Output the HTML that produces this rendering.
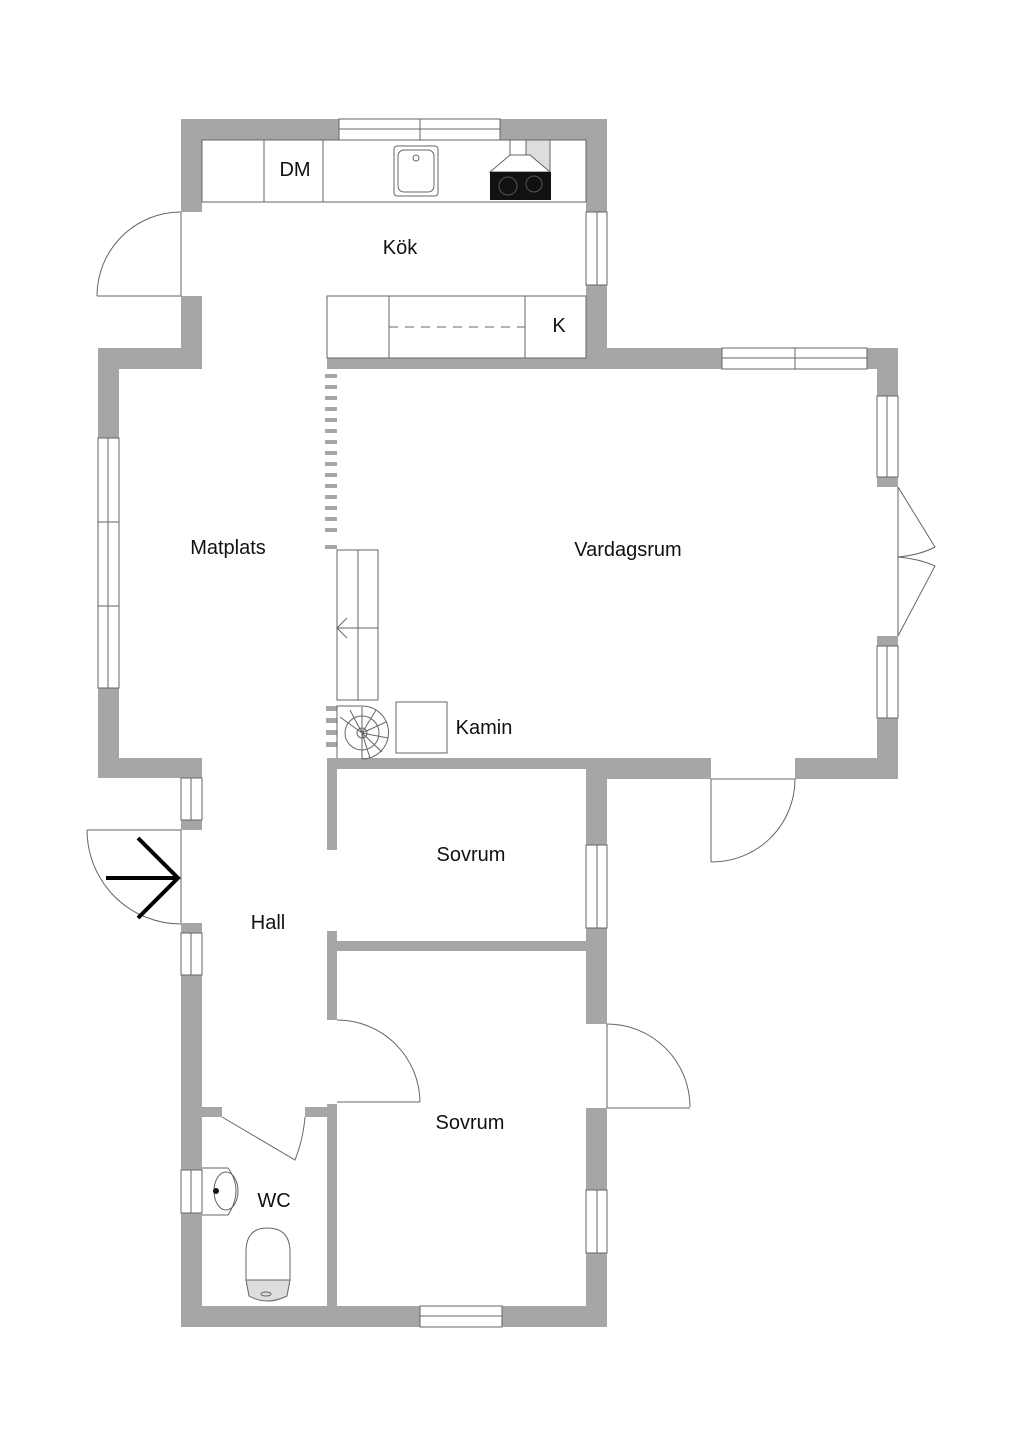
<!DOCTYPE html>
<html><head><meta charset="utf-8"><style>html,body{margin:0;padding:0;background:#fff}svg{display:block}</style></head>
<body>
<svg width="1024" height="1449" viewBox="0 0 1024 1449" xmlns="http://www.w3.org/2000/svg" font-family="Liberation Sans, sans-serif">
<rect width="1024" height="1449" fill="#fff"/>
<g fill="#a6a6a6" stroke="none">
<rect x="181" y="119" width="158" height="21"/>
<rect x="500" y="119" width="107" height="21"/>
<rect x="181" y="119" width="21" height="93"/>
<rect x="181" y="296" width="21" height="73"/>
<rect x="586" y="119" width="21" height="93"/>
<rect x="586" y="285" width="21" height="84"/>
<rect x="98" y="348" width="104" height="21"/>
<rect x="98" y="348" width="21" height="90"/>
<rect x="98" y="688" width="21" height="90"/>
<rect x="98" y="758" width="104" height="20"/>
<rect x="181" y="820" width="21" height="10"/>
<rect x="181" y="923" width="21" height="10"/>
<rect x="181" y="975" width="21" height="195"/>
<rect x="181" y="1213" width="21" height="114"/>
<rect x="181" y="1306" width="239" height="21"/>
<rect x="502" y="1306" width="105" height="21"/>
<rect x="586" y="758" width="21" height="87"/>
<rect x="586" y="928" width="21" height="96"/>
<rect x="586" y="1108" width="21" height="82"/>
<rect x="586" y="1253" width="21" height="74"/>
<rect x="327" y="358" width="280" height="11"/>
<rect x="586" y="348" width="136" height="21"/>
<rect x="867" y="348" width="31" height="21"/>
<rect x="877" y="348" width="21" height="48"/>
<rect x="877" y="477" width="21" height="10"/>
<rect x="877" y="636" width="21" height="10"/>
<rect x="877" y="718" width="21" height="61"/>
<rect x="586" y="758" width="125" height="21"/>
<rect x="795" y="758" width="103" height="21"/>
<rect x="327" y="758" width="260" height="11"/>
<rect x="327" y="758" width="10" height="92"/>
<rect x="327" y="931" width="10" height="89"/>
<rect x="337" y="941" width="250" height="10"/>
<rect x="327" y="1104" width="10" height="223"/>
<rect x="202" y="1107" width="20" height="10"/>
<rect x="305" y="1107" width="32" height="10"/>
</g>
<g fill="#a6a6a6">
<rect x="325" y="374" width="12" height="4"/><rect x="325" y="385" width="12" height="4"/><rect x="325" y="396" width="12" height="4"/><rect x="325" y="407" width="12" height="4"/><rect x="325" y="418" width="12" height="4"/><rect x="325" y="429" width="12" height="4"/><rect x="325" y="440" width="12" height="4"/><rect x="325" y="451" width="12" height="4"/><rect x="325" y="462" width="12" height="4"/><rect x="325" y="473" width="12" height="4"/><rect x="325" y="484" width="12" height="4"/><rect x="325" y="495" width="12" height="4"/><rect x="325" y="506" width="12" height="4"/><rect x="325" y="517" width="12" height="4"/><rect x="325" y="528" width="12" height="4"/><rect x="325" y="545" width="12" height="4"/>
<rect x="326" y="706" width="11" height="5"/><rect x="326" y="718" width="11" height="5"/><rect x="326" y="730" width="11" height="5"/><rect x="326" y="742" width="11" height="5"/>
</g>
<g fill="none" stroke="#666" stroke-width="1">
<rect x="339" y="119" width="161" height="21"/><line x1="339" y1="129" x2="500" y2="129"/><line x1="420" y1="119" x2="420" y2="140"/>
<rect x="586" y="212" width="21" height="73"/><line x1="597" y1="212" x2="597" y2="285"/>
<rect x="98" y="438" width="21" height="250"/><line x1="108" y1="438" x2="108" y2="688"/><line x1="98" y1="522" x2="119" y2="522"/><line x1="98" y1="606" x2="119" y2="606"/>
<rect x="181" y="778" width="21" height="42"/><line x1="191" y1="778" x2="191" y2="820"/>
<rect x="181" y="933" width="21" height="42"/><line x1="191" y1="933" x2="191" y2="975"/>
<rect x="181" y="1170" width="21" height="43"/><line x1="191" y1="1170" x2="191" y2="1213"/>
<rect x="420" y="1306" width="82" height="21"/><line x1="420" y1="1316" x2="502" y2="1316"/>
<rect x="586" y="845" width="21" height="83"/><line x1="597" y1="845" x2="597" y2="928"/>
<rect x="586" y="1190" width="21" height="63"/><line x1="597" y1="1190" x2="597" y2="1253"/>
<rect x="722" y="348" width="145" height="21"/><line x1="722" y1="358" x2="867" y2="358"/><line x1="795" y1="348" x2="795" y2="369"/>
<rect x="877" y="396" width="21" height="81"/><line x1="887" y1="396" x2="887" y2="477"/>
<rect x="877" y="646" width="21" height="72"/><line x1="887" y1="646" x2="887" y2="718"/>
<rect x="202" y="140" width="384" height="62"/><line x1="264" y1="140" x2="264" y2="202"/><line x1="323" y1="140" x2="323" y2="202"/>
<rect x="327" y="296" width="259" height="62"/><line x1="389" y1="296" x2="389" y2="358"/><line x1="525" y1="296" x2="525" y2="358"/>
<line x1="389" y1="327" x2="525" y2="327" stroke-dasharray="9,7"/>
<line x1="181" y1="212" x2="181" y2="296"/><line x1="97" y1="296" x2="181" y2="296"/><path d="M97,296 A84,84 0 0 1 181,212"/>
<line x1="181" y1="830" x2="181" y2="923"/><line x1="87" y1="830" x2="181" y2="830"/><path d="M87,830 A94,94 0 0 0 181,924"/>
<line x1="711" y1="779" x2="795" y2="779"/><line x1="711" y1="779" x2="711" y2="862"/><path d="M711,862 A83,83 0 0 0 795,779"/>
<line x1="898" y1="487" x2="898" y2="636"/><path d="M898,487 L935,547 Q920,555 898,557 Q920,559 935,566 L898,636"/>
<path d="M337,1020 A83,83 0 0 1 420,1102"/><line x1="337" y1="1102" x2="420" y2="1102"/>
<line x1="607" y1="1024" x2="607" y2="1108"/><path d="M607,1024 A83,83 0 0 1 690,1107"/><line x1="607" y1="1108" x2="690" y2="1108"/>
<path d="M222,1117 L295,1160 Q303,1140 305,1117"/>
<rect x="337" y="550" width="41" height="150"/><line x1="358" y1="550" x2="358" y2="700"/><line x1="337" y1="628" x2="378" y2="628"/>
<path d="M347,618 L337,628 L347,638"/>
<path d="M337,758 L337,706 L362,706 A26,26 0 1 1 362,759"/>
<circle cx="362" cy="733" r="17"/><circle cx="362" cy="733" r="5"/>
<path d="M362,733 L340,717 M362,733 L350,710 M362,733 L362,707 M362,733 L376,710 M362,733 L386,722 M362,733 L388,738 M362,733 L382,752 M362,733 L370,758 M362,733 L362,759"/>
<rect x="396" y="702" width="51" height="51"/>
<rect x="394" y="146" width="44" height="50" rx="3"/><rect x="398" y="150" width="36" height="42" rx="6"/><circle cx="416" cy="158" r="3"/>
<path d="M202,1168 L228,1168 Q244,1190 228,1215 L202,1215"/><ellipse cx="226" cy="1191" rx="12" ry="19"/>
<path d="M246,1280 L246,1252 Q246,1228 267,1228 Q290,1228 290,1252 L290,1280 Z"/>
<path d="M246,1280 L290,1280 L287,1296 Q267,1306 249,1296 Z" fill="#ddd"/>
<ellipse cx="266" cy="1294" rx="5" ry="2"/>
</g>
<rect x="510" y="140" width="40" height="32" fill="#ddd" stroke="#666"/>
<path d="M490,172 L510,155 L530,155 L550,172 Z" fill="#fff" stroke="#666"/>
<rect x="510" y="140" width="16" height="15" fill="#fff" stroke="#666"/>
<rect x="490" y="172" width="61" height="28" fill="#111"/>
<circle cx="508" cy="186" r="9" fill="none" stroke="#555"/><circle cx="534" cy="184" r="8" fill="none" stroke="#555"/>
<line x1="492" y1="202" x2="549" y2="202" stroke="#666"/>
<circle cx="216" cy="1191" r="3" fill="#111"/>
<g stroke="#000" stroke-width="4" fill="none"><line x1="106" y1="878" x2="178" y2="878"/><path d="M138,838 L178,878 L138,918"/></g>
<g font-size="20" fill="#111" text-anchor="middle">
<text x="400" y="254">Kök</text>
<text x="295" y="176">DM</text>
<text x="559" y="332">K</text>
<text x="228" y="554">Matplats</text>
<text x="628" y="556">Vardagsrum</text>
<text x="484" y="734">Kamin</text>
<text x="471" y="861">Sovrum</text>
<text x="268" y="929">Hall</text>
<text x="470" y="1129">Sovrum</text>
<text x="274" y="1207">WC</text>
</g>
</svg>
</body></html>
